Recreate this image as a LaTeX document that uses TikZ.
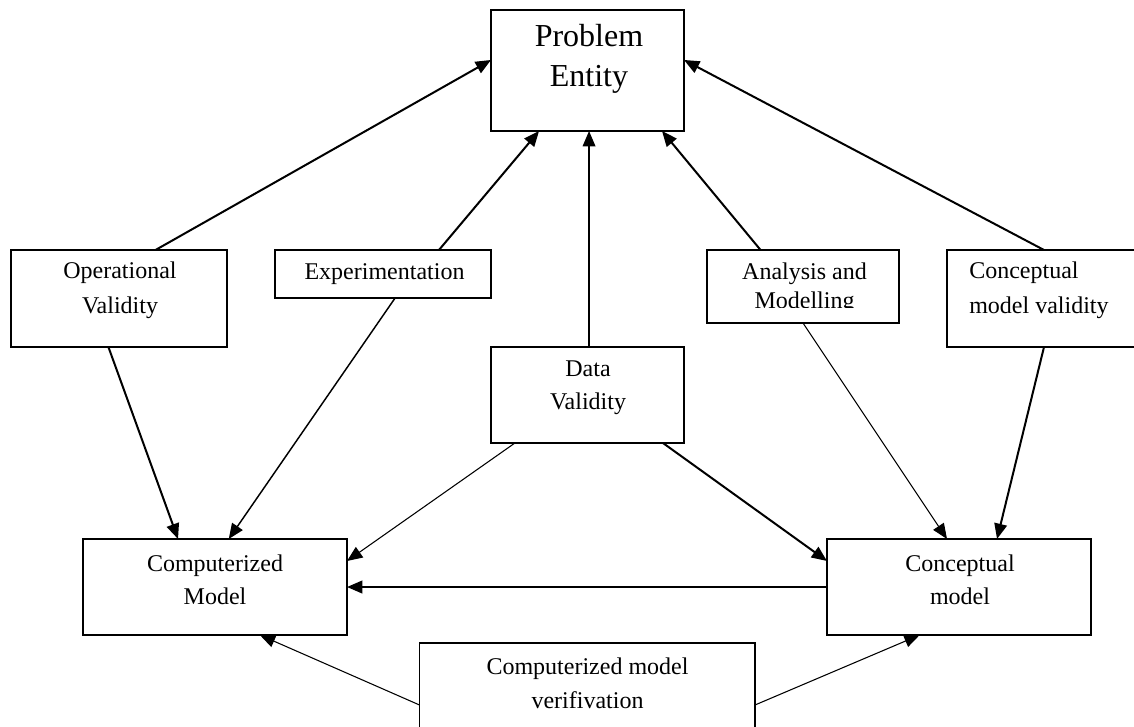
\documentclass[tikz,border=0pt]{standalone}
\usepackage{fontspec}
\setmainfont{Liberation Serif}
\usetikzlibrary{arrows.meta,calc}
\begin{document}
\begin{tikzpicture}[x=0.75pt,y=-0.75pt,
  box/.style={draw,line width=1.4pt,rectangle,inner sep=0pt,outer sep=0pt},
  lbl/.style={inner sep=0pt,align=center,font=\fontsize{18}{26.25}\selectfont},
  arrthick/.style={line width=1.5pt,-{Triangle[length=11.5pt,width=9.5pt]}},
  arrmid/.style={line width=1.1pt,-{Triangle[length=11.5pt,width=9.5pt]}},
  arrthin/.style={line width=0.8pt,-{Triangle[length=11.5pt,width=9.5pt]}}]
\useasboundingbox (0,0) rectangle (1134,726);
\clip (0,0) rectangle (1134,726);

% boxes
\node[box,minimum width=144.75pt,minimum height=90.75pt] (pe) at (587.5,70.5) {};
\node[box,minimum width=162pt,minimum height=72.75pt] (op) at (119,298.5) {};
\node[box,minimum width=162pt,minimum height=36pt] (ex) at (383,274) {};
\node[box,minimum width=144pt,minimum height=54.75pt] (am) at (803,286.5) {};
\node[box,minimum width=145.5pt,minimum height=72.75pt] (cmv) at (1044,298.5) {};
\node[box,minimum width=144.75pt,minimum height=72pt] (dv) at (587.5,395) {};
\node[box,minimum width=198pt,minimum height=72pt] (cm) at (215,587) {};
\node[box,minimum width=198pt,minimum height=72pt] (co) at (959,587) {};
\node[box,minimum width=251.6pt,minimum height=72.75pt] (vf) at (587.25,691.5) {};

% texts
\node[lbl,font=\fontsize{24}{30}\selectfont] (pet) at (589,59) {Problem\\Entity};
\node[lbl] (opt) at (120,290.5) {Operational\\Validity};
\node[lbl] (ext) at (384.5,274) {Experimentation};
\begin{scope}
  \clip (700,240) rectangle (905,307.5);
  \node[lbl,font=\fontsize{18}{22}\selectfont] (amt) at (804.5,288) {Analysis and\\Modelling};
\end{scope}
\node[lbl,align=left,anchor=west] (cmvt) at (969,290.5) {Conceptual\\model validity};
\node[lbl,font=\fontsize{18}{24.75}\selectfont] (dvt) at (588,388) {Data\\Validity};
\node[lbl,font=\fontsize{18}{24.75}\selectfont] (cmt) at (215,579.5) {Computerized\\Model};
\node[lbl,font=\fontsize{18}{24.75}\selectfont] (cot) at (960,579.5) {Conceptual\\model};
\node[lbl,font=\fontsize{18}{25.5}\selectfont] (vft) at (587.5,683) {Computerized model\\verifivation};

% connectors to Problem Entity
\draw[arrthick] ($(op.north west)!0.669!(op.north east)$) -- ($(pe.north west)!0.413!(pe.south west)$);
\draw[arrthick] ($(ex.north west)!0.759!(ex.north east)$) -- ($(pe.south west)!0.249!(pe.south east)$);
\draw[arrmid] ($(dv.north west)!0.508!(dv.north east)$) -- ($(pe.south west)!0.508!(pe.south east)$);
\draw[arrthick] ($(am.north west)!0.279!(am.north east)$) -- ($(pe.south west)!0.886!(pe.south east)$);
\draw[arrthick] (cmv.north) -- ($(pe.north east)!0.413!(pe.south east)$);

% connectors to Computerized Model
\draw[arrthick] ($(op.south west)!0.451!(op.south east)$) -- ($(cm.north west)!0.36!(cm.north east)$);
\draw[arrmid] ($(ex.south west)!0.556!(ex.south east)$) -- ($(cm.north west)!0.552!(cm.north east)$);
\draw[arrthin] ($(dv.south west)!0.124!(dv.south east)$) -- ($(cm.north east)!0.229!(cm.south east)$);
\draw[arrthick] (co.west) -- (cm.east);
\draw[arrthin] ($(vf.north west)!0.639!(vf.south west)$) -- ($(cm.south west)!0.67!(cm.south east)$);

% connectors to Conceptual model
\draw[arrthick] ($(dv.south west)!0.891!(dv.south east)$) -- ($(co.north west)!0.229!(co.south west)$);
\draw[arrthin] (am.south) -- ($(co.north west)!0.4545!(co.north east)$);
\draw[arrthick] (cmv.south) -- ($(co.north west)!0.644!(co.north east)$);
\draw[arrthin] ($(vf.north east)!0.639!(vf.south east)$) -- ($(co.south west)!0.351!(co.south east)$);
\end{tikzpicture}
\end{document}
